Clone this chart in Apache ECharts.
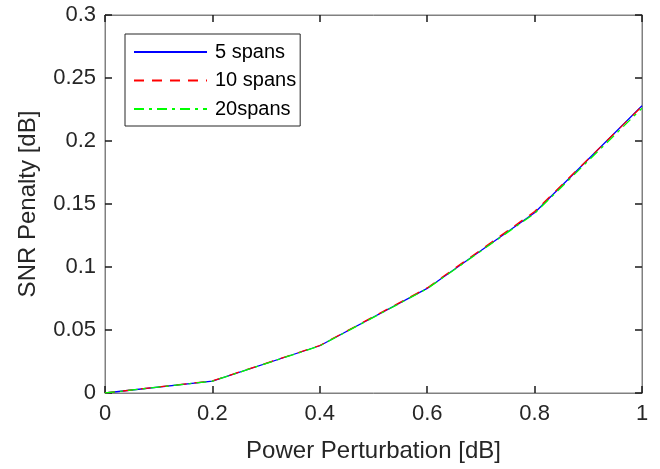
<!DOCTYPE html>
<html>
<head>
<meta charset="utf-8">
<script src="https://cdn.jsdelivr.net/npm/echarts@6/dist/echarts.min.js"></script>
<style>
html,body{margin:0;padding:0;background:#fff;}
#c{width:660px;height:469px;}
</style>
</head>
<body>
<div id="c"></div>
<script>
const xValues = [0, 0.2, 0.4, 0.6, 0.8, 1.0];
const spans5 = [0, 0.0095, 0.0375, 0.0830, 0.1430, 0.2280];
const spans10 = [0, 0.0096, 0.0377, 0.0834, 0.1440, 0.2275];
const spans20 = [0, 0.0094, 0.0374, 0.0828, 0.1425, 0.2260];
const seriesNames = ['5 spans', '10 spans', '20spans'];
const xTicks = ['0', '0.2', '0.4', '0.6', '0.8', '1'];

const FONT = '"Liberation Sans", Arial, sans-serif';
const TXT = '#262626';
const AX = '#808080';

function pairs(ys){ return xValues.map((x,i)=>[x, ys[i]]); }

const chart = echarts.init(document.getElementById('c'));
function axisCommon(){
  return {
    show: true,
    axisLine: {show: true, onZero: false, lineStyle: {color: AX, width: 1}},
    axisTick: {show: true, inside: true, length: 7, lineStyle: {color: '#1a1a1a', width: 1.5}},
    splitLine: {show: false}
  };
}
chart.setOption({
  animation: false,
  textStyle: {fontFamily: FONT},
  grid: {left: 105, right: 18, top: 15, bottom: 76, show: true, borderColor: AX, borderWidth: 1, backgroundColor: 'transparent'},
  legend: {
    orient: 'vertical', left: 125, top: 34,
    data: seriesNames,
    backgroundColor: '#fff',
    borderColor: '#262626', borderWidth: 1,
    padding: [8, 4, 7, 8],
    itemWidth: 73, itemHeight: 14, itemGap: 8.5,
    itemStyle: {opacity: 0},
    textStyle: {fontFamily: FONT, fontSize: 20, color: '#000', padding: [0, 0, 0, 3]}
  },
  xAxis: [
    Object.assign({type: 'value', min: 0, max: 1, interval: 0.2, position: 'bottom',
      name: 'Power Perturbation [dB]', nameLocation: 'middle', nameGap: 46,
      nameTextStyle: {fontFamily: FONT, fontSize: 24, color: TXT},
      axisLabel: {fontFamily: FONT, fontSize: 22, color: TXT, margin: 10,
        formatter: v => xTicks[Math.round(v/0.2)]}}, axisCommon()),
    Object.assign({type: 'value', min: 0, max: 1, interval: 0.2, position: 'top',
      axisLabel: {show: false}}, axisCommon())
  ],
  yAxis: [
    Object.assign({type: 'value', min: 0, max: 0.3, interval: 0.05, position: 'left',
      name: 'SNR Penalty [dB]', nameLocation: 'middle', nameGap: 65,
      nameTextStyle: {fontFamily: FONT, fontSize: 24, color: TXT},
      axisLabel: {fontFamily: FONT, fontSize: 22, color: TXT, margin: 9}}, axisCommon()),
    Object.assign({type: 'value', min: 0, max: 0.3, interval: 0.05, position: 'right',
      axisLabel: {show: false}}, axisCommon())
  ],
  series: [
    {name: seriesNames[0], type: 'line', data: pairs(spans5), showSymbol: false, symbol: 'none',
      lineStyle: {color: '#0000ff', width: 1.3, type: 'solid'}, itemStyle: {color: '#0000ff'}},
    {name: seriesNames[1], type: 'line', data: pairs(spans10), showSymbol: false, symbol: 'none',
      lineStyle: {color: '#ff0000', width: 1.3, type: [10, 8]}, itemStyle: {color: '#ff0000'}},
    {name: seriesNames[2], type: 'line', data: pairs(spans20), showSymbol: false, symbol: 'none',
      lineStyle: {color: '#00ff00', width: 1.3, type: [10, 5, 3, 5]}, itemStyle: {color: '#00ff00'}},
    {name: 'frame', type: 'line', xAxisIndex: 1, yAxisIndex: 1, data: [[0, null]], symbol: 'none', silent: true}
  ]
});
</script>
</body>
</html>
